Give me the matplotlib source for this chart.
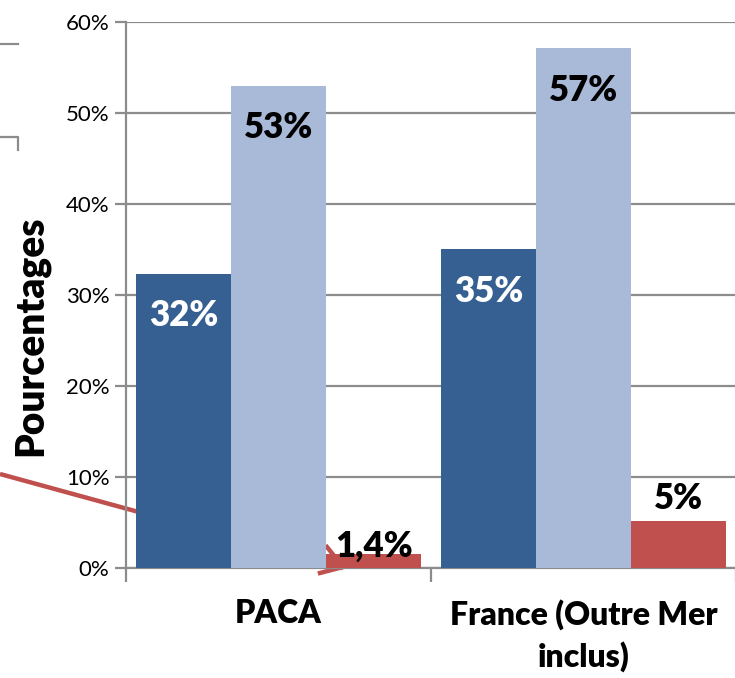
import matplotlib.pyplot as plt
from matplotlib.lines import Line2D
import numpy as np

plt.rcParams['font.family'] = ['Lato', 'DejaVu Sans']

categories = ["PACA", "France (Outre Mer\ninclus)"]
serie_1 = [32.3, 35.0]
serie_2 = [53.0, 57.1]
serie_3 = [1.5, 5.2]
labels_1 = ["32%", "35%"]
labels_2 = ["53%", "57%"]
labels_3 = ["1,4%", "5%"]
yticks = [0, 10, 20, 30, 40, 50, 60]

dark_blue = "#366092"
light_blue = "#A9BAD8"
red = "#C0504D"
grid_gray = "#8C8C8C"

fig = plt.figure(figsize=(7.35, 6.78), dpi=100)
ax = fig.add_axes([126 / 735, 110 / 678, 610 / 735, 546 / 678])
ax.set_facecolor("none")

x = np.arange(len(categories))
w = 0.312

# red arrow remnant, drawn behind the bars
fig.add_artist(Line2D([0, 343 / 735], [1 - 474 / 678, 1 - 568 / 678],
                      color=red, lw=3.2, zorder=-1, solid_capstyle="butt"))
fig.add_artist(Line2D([320 / 735, 343 / 735, 327 / 735],
                      [1 - 573 / 678, 1 - 567 / 678, 1 - 547 / 678],
                      color=red, lw=3.2, zorder=-1))

b1 = ax.bar(x - w, serie_1, w, color=dark_blue, zorder=3)
b2 = ax.bar(x, serie_2, w, color=light_blue, zorder=3)
b3 = ax.bar(x + w, serie_3, w, color=red, zorder=3)

lab_kw = dict(textcoords="offset points", ha="center", va="center",
              fontsize=25, fontweight="heavy", zorder=4)
for i in range(len(categories)):
    ax.annotate(labels_1[i], (x[i] - w, serie_1[i]), xytext=(0, -30),
                color="white", **lab_kw)
    ax.annotate(labels_2[i], (x[i], serie_2[i]), xytext=(0, -30),
                color="black", **lab_kw)
    off = 6 if i == 0 else 16
    ax.annotate(labels_3[i], (x[i] + w, serie_3[i]), xytext=(0, off),
                color="black", **lab_kw)

ax.set_xlim(-0.5, 1.5)
ax.set_ylim(0, 60)
ax.set_yticks(yticks)
ax.set_yticklabels([f"{t}%" for t in yticks], fontsize=16)
ax.yaxis.grid(True, color=grid_gray, lw=1.6, zorder=0)
ax.set_axisbelow(True)

ax.set_xticks([-0.5, 0.5, 1.5])
ax.set_xticklabels([])
ax.set_xticks(x, minor=True)
ax.set_xticklabels(categories, minor=True, fontsize=23, fontweight="heavy",
                   linespacing=1.45)
ax.tick_params(axis="x", which="minor", length=0, pad=22)
ax.tick_params(axis="x", which="major", length=10, color=grid_gray, width=1.6)
ax.tick_params(axis="y", length=8, color=grid_gray, width=1.6, pad=4)

for s in ["top", "right"]:
    ax.spines[s].set_visible(False)
for s in ["left", "bottom"]:
    ax.spines[s].set_color(grid_gray)
    ax.spines[s].set_linewidth(1.6)

ax.set_ylabel("Pourcentages", fontsize=28, fontweight="heavy")
ax.yaxis.set_label_coords(-0.125, 0.425)

# pieces of a neighbouring frame at the top left
fig.add_artist(Line2D([0, 18 / 735], [1 - 44 / 678, 1 - 44 / 678],
                      color=grid_gray, lw=1.6))
fig.add_artist(Line2D([0, 18 / 735, 18 / 735],
                      [1 - 137 / 678, 1 - 137 / 678, 1 - 150 / 678],
                      color=grid_gray, lw=1.6))

fig.savefig("out.png", dpi=100)
